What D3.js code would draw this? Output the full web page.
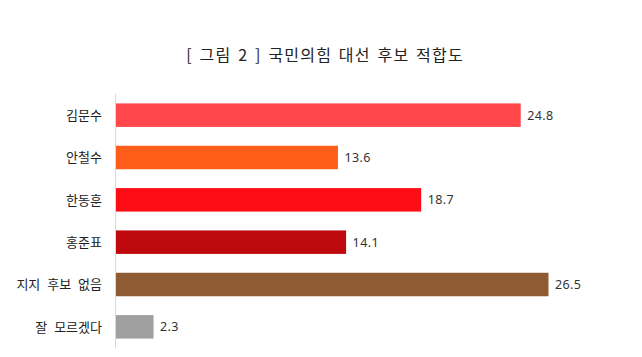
<!DOCTYPE html>
<html><head><meta charset="utf-8">
<script src="https://cdn.jsdelivr.net/npm/d3@7"></script>
<style>
html,body{margin:0;padding:0;background:#fff;}
svg{display:block;}
</style>
</head><body>
<svg id="chart" width="642" height="357"></svg>
<script>
const title = "[ 그림 2 ] 국민의힘 대선 후보 적합도";
const categories = ["김문수", "안철수", "한동훈", "홍준표", "지지 후보 없음", "잘 모르겠다"];
const values = [24.8, 13.6, 18.7, 14.1, 26.5, 2.3];
const colors = ["#FF474C", "#FF5E1A", "#FF0D16", "#BE0A0F", "#8E5B33", "#A0A0A0"];

(function(){
const svg = d3.select("#chart");
const plotLeft = 116, plotTop = 94, plotBottom = 348;

const x = d3.scaleLinear().domain([0, 30]).range([plotLeft, plotLeft + 30 * 16.32]);
const y = d3.scaleBand().domain(categories).range([plotTop, plotBottom]).paddingInner(0.445).paddingOuter(0.2225);

svg.append("text")
  .attr("x", 325).attr("y", 61)
  .attr("text-anchor", "middle")
  .attr("font-family", "'Noto Sans CJK KR', sans-serif")
  .attr("font-size", 16)
  .attr("fill", "#222")
  .attr("letter-spacing", 1.2)
  .attr("word-spacing", 2)
  .text(title);

svg.append("line")
  .attr("x1", plotLeft - 0.5).attr("x2", plotLeft - 0.5)
  .attr("y1", plotTop).attr("y2", plotBottom)
  .attr("stroke", "#d9d9d9").attr("stroke-width", 1);

const data = categories.map((c, i) => ({c, v: values[i], col: colors[i]}));

svg.selectAll("rect.bar").data(data).join("rect")
  .attr("class", "bar")
  .attr("x", x(0))
  .attr("y", d => y(d.c))
  .attr("width", d => x(d.v) - x(0))
  .attr("height", y.bandwidth())
  .attr("fill", d => d.col);

svg.selectAll("text.cat").data(data).join("text")
  .attr("class", "cat")
  .attr("x", 102)
  .attr("y", d => y(d.c) + y.bandwidth() / 2)
  .attr("dy", "0.36em")
  .attr("text-anchor", "end")
  .attr("font-family", "'Noto Sans CJK KR', sans-serif")
  .attr("font-size", 13)
  .attr("word-spacing", 4)
  .attr("fill", "#222")
  .text(d => d.c);

svg.selectAll("text.val").data(data).join("text")
  .attr("class", "val")
  .attr("x", d => x(d.v) + 6.5)
  .attr("y", d => y(d.c) + y.bandwidth() / 2)
  .attr("dy", "0.36em")
  .attr("font-family", "'Noto Sans', sans-serif")
  .attr("font-size", 12.5)
  .attr("letter-spacing", 0.4)
  .attr("fill", "#333")
  .text(d => d3.format(".1f")(d.v));
})();
</script>
</body></html>
